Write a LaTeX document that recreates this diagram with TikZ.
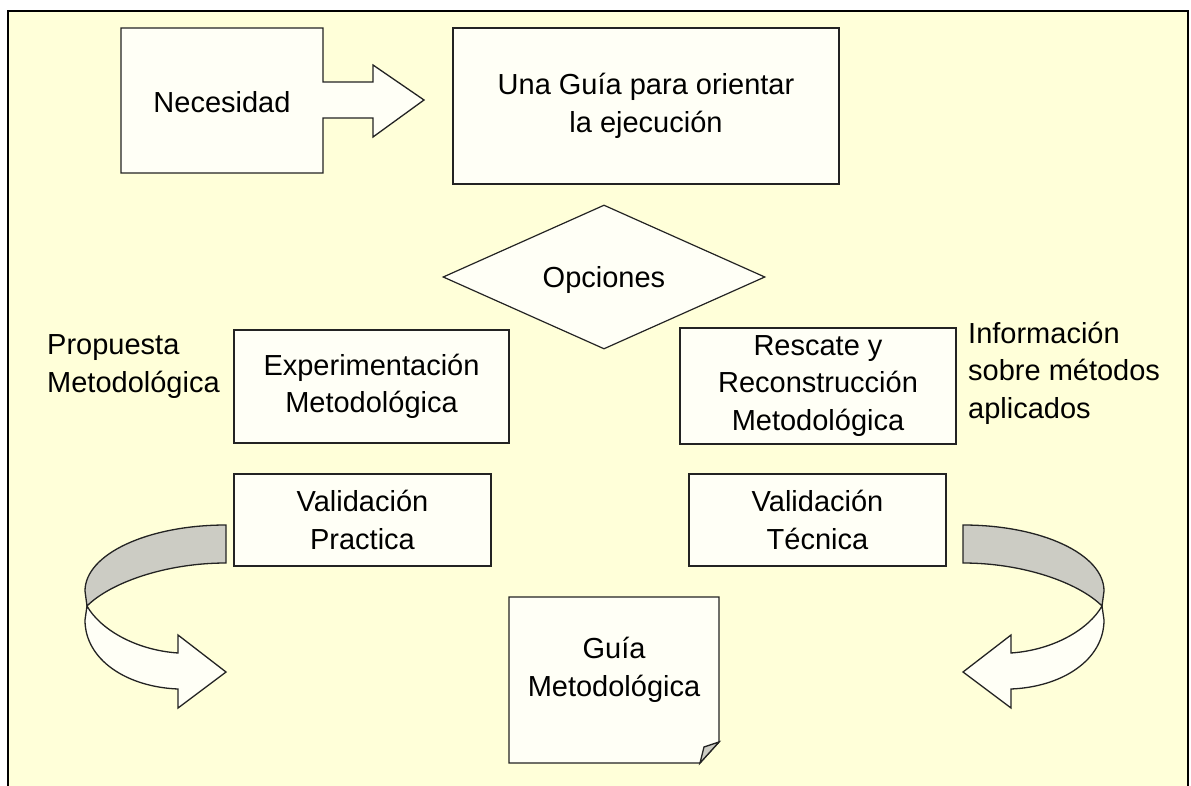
\documentclass[tikz,border=0pt]{standalone}
\usepackage{fontspec}
\setmainfont{Liberation Sans}
\usetikzlibrary{shapes.geometric}
\definecolor{bgyellow}{RGB}{255,255,217}
\definecolor{boxfill}{RGB}{255,255,246}
\definecolor{bandgray}{RGB}{204,204,196}
\definecolor{edgecol}{RGB}{35,35,35}
\newcommand\txtfont{\fontsize{29}{37.5}\selectfont}
\newcommand\myribbonarrow{%
  \filldraw[bandline] (226,525) .. controls (148,525) and (85,554) .. (85,591)
    -- (87,606) .. controls (110,583) and (165,563) .. (226,563) -- cycle;
  \filldraw[shapeline] (87,606) .. controls (100,629) and (135,650) .. (178,653)
    -- (178,635) -- (226,672) -- (178,708) -- (178,689)
    .. controls (127,687) and (85,660) .. (85,620) -- cycle;
}
\begin{document}
\begin{tikzpicture}[x=1pt,y=-1pt,
  shapeline/.style={draw=edgecol, fill=boxfill, line width=1.3pt},
  bandline/.style={draw=edgecol, fill=bandgray, line width=1.3pt},
  txt/.style={inner sep=0pt, align=center, font=\txtfont, text=black},
  box/.style={shapeline, txt, rectangle}]
\useasboundingbox (0,0) rectangle (1191,786);
\fill[white] (0,0) rectangle (1191,786);
\filldraw[fill=bgyellow, draw=black, line width=2pt] (8,11) rectangle (1188,800);

% Necesidad with arrow
\filldraw[shapeline] (121,28) -- (323,28) -- (323,82) -- (373,82) -- (373,65)
  -- (424,100) -- (373,137) -- (373,118) -- (323,118) -- (323,173) -- (121,173) -- cycle;
\node[txt] (necesidad) at (222,102.5) {Necesidad};

\node[box, minimum width=386pt, minimum height=156pt] (guia) at (646,106)
  {Una Guía para orientar\\la ejecución};

\node[diamond, shapeline, txt, line width=1.2pt, minimum width=322pt,
  minimum height=144pt, text depth=0pt] (opciones) at (604,277) {Opciones};

\node[box, minimum width=275pt, minimum height=113pt] (exper) at (371.5,386.5)
  {Experimentación\\Metodológica};
\node[box, minimum width=276pt, minimum height=116pt] (rescate) at (818,386)
  {Rescate y\\Reconstrucción\\Metodológica};
\node[box, minimum width=257pt, minimum height=92pt] (valprac) at (362.5,520)
  {Validación\\Practica};
\node[box, minimum width=257pt, minimum height=92pt] (valtec) at (817.5,520)
  {Validación\\Técnica};

\node[txt, align=left, anchor=west] (propuesta) at (47,366.6)
  {Propuesta\\Metodológica};
\node[txt, align=left, anchor=west] (info) at (968,373)
  {Información\\sobre métodos\\aplicados};

% curved ribbon arrows
\myribbonarrow
\begin{scope}[xshift=1189pt, xscale=-1]
  \myribbonarrow
\end{scope}

% folded-corner document
\filldraw[shapeline] (509,597) -- (719,597) -- (719,742) -- (700,763) -- (509,763) -- cycle;
\filldraw[bandline] (700,763) -- (704,747) -- (719,742) -- cycle;
\node[txt] (guiamet) at (614,670) {Guía\\Metodológica};
\end{tikzpicture}
\end{document}
